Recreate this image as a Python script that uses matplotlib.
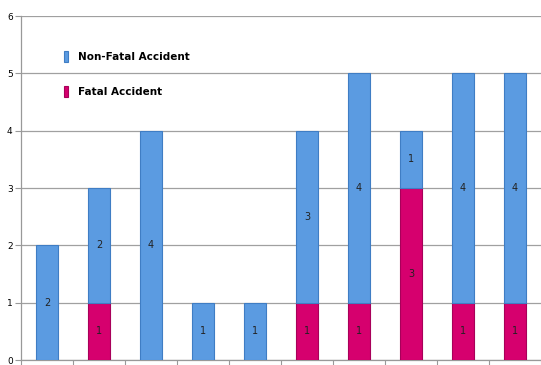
import numpy as np
import matplotlib.pyplot as plt

# values
fatal = [0, 1, 0, 0, 0, 1, 1, 3, 1, 1]
non_fatal = [2, 2, 4, 1, 1, 3, 4, 1, 4, 4]
y_ticks = [0, 1, 2, 3, 4, 5, 6]

blue = '#5b9be1'
magenta = '#d6006e'

fig = plt.figure(figsize=(5.41, 3.65), dpi=100)
ax = fig.add_axes([21 / 541, 5 / 365, 520 / 541, 344 / 365])

x = np.arange(len(fatal))
fatal_bars = ax.bar(x, fatal, width=0.42, color=magenta, edgecolor='#a8005a',
                    linewidth=0.8, label='Fatal Accident', zorder=3)
nonfatal_bars = ax.bar(x, non_fatal, width=0.42, bottom=fatal, color=blue,
                       edgecolor='#3f7dc4', linewidth=0.8,
                       label='Non-Fatal Accident', zorder=3)

# value labels in the middle of each segment
for i in range(len(x)):
    if fatal[i] > 0:
        ax.text(x[i], fatal[i] / 2, str(fatal[i]), ha='center', va='center',
                fontsize=7, color='#222222', zorder=4)
    if non_fatal[i] > 0:
        ax.text(x[i], fatal[i] + non_fatal[i] / 2, str(non_fatal[i]),
                ha='center', va='center', fontsize=7, color='#222222', zorder=4)

ax.set_xlim(-0.5, len(x) - 0.5)
ax.set_ylim(0, 6)
ax.set_yticks(y_ticks)
ax.set_yticklabels([str(v) for v in y_ticks], fontsize=6.5)
ax.set_xticks(np.arange(len(x) + 1) - 0.5)
ax.set_xticklabels([])
ax.tick_params(axis='both', color='#999999', length=4, width=0.8, pad=2)
ax.yaxis.grid(True, color='#a0a0a0', linewidth=0.9, zorder=0)

for side in ['top', 'right']:
    ax.spines[side].set_visible(False)
for side in ['left', 'bottom']:
    ax.spines[side].set_color('#999999')
    ax.spines[side].set_linewidth(0.9)

leg = ax.legend(handles=[nonfatal_bars, fatal_bars], loc='upper left',
                bbox_to_anchor=(0.065, 0.925), frameon=False, handlelength=0.4,
                handleheight=1.2, labelspacing=2.3, handletextpad=0.9,
                prop={'size': 7.5, 'weight': 'bold'})

fig.savefig('out.png', dpi=100)
